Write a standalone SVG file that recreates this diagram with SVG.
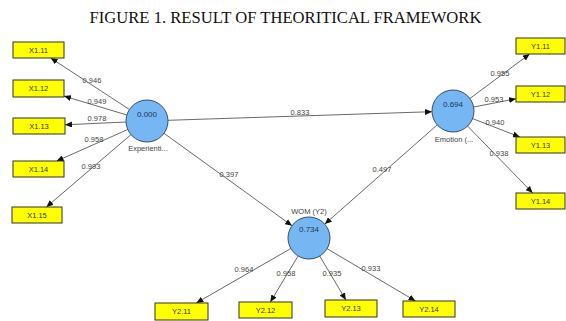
<svg xmlns="http://www.w3.org/2000/svg" width="566" height="321" viewBox="0 0 566 321">
<defs>
<marker id="ah" markerUnits="userSpaceOnUse" markerWidth="8" markerHeight="6" refX="7" refY="3" orient="auto">
<path d="M0,0 L7,3 L0,6 Z" fill="#111"/>
</marker>
<style>
.title{font-family:"Liberation Serif","Times New Roman",serif;font-size:16.6px;fill:#111;text-anchor:middle}
.box{fill:#ffff00;stroke:#333;stroke-width:1}
.bt{font-family:"Liberation Sans",Arial,sans-serif;font-size:7.5px;fill:#333;text-anchor:middle}
.lv{fill:#76b7f3;stroke:#34506c;stroke-width:1}
.val{font-family:"Liberation Sans",Arial,sans-serif;font-size:8px;fill:#1e3558;text-anchor:middle}
.nm{font-family:"Liberation Sans",Arial,sans-serif;font-size:7.5px;fill:#444;text-anchor:middle}
.ln{stroke:#444;stroke-width:0.8;fill:none;marker-end:url(#ah)}
.pl{font-family:"Liberation Sans",Arial,sans-serif;font-size:7.5px;fill:#444;text-anchor:middle}
</style>
</defs>
<rect width="566" height="321" fill="#fff"/>
<text class="title" x="285.5" y="23">FIGURE 1. RESULT OF THEORITICAL FRAMEWORK</text>

<g id="connectors">
<line class="ln" x1="129.4" y1="109.5" x2="50.7" y2="58"/>
<line class="ln" x1="126.9" y1="115" x2="64" y2="96.1"/>
<line class="ln" x1="126" y1="122" x2="65" y2="124.8"/>
<line class="ln" x1="127.8" y1="129.5" x2="56.6" y2="161"/>
<line class="ln" x1="131" y1="134.6" x2="46.4" y2="207"/>
<line class="ln" x1="469.9" y1="98.5" x2="529.7" y2="54"/>
<line class="ln" x1="473.6" y1="107" x2="516" y2="98.8"/>
<line class="ln" x1="472.6" y1="118.6" x2="519.9" y2="137"/>
<line class="ln" x1="467.6" y1="126.1" x2="532.7" y2="193"/>
<line class="ln" x1="290.8" y1="248.5" x2="196.3" y2="303"/>
<line class="ln" x1="298.1" y1="256" x2="270.3" y2="302"/>
<line class="ln" x1="319.7" y1="256" x2="345.9" y2="300"/>
<line class="ln" x1="327.1" y1="248.7" x2="415.5" y2="301"/>
<line class="ln" x1="168" y1="120.3" x2="432" y2="111.7"/>
<line class="ln" x1="164" y1="133.3" x2="292" y2="225.7"/>
<line class="ln" x1="437.2" y1="124.9" x2="324.8" y2="224.1"/>
<text class="pl" x="92" y="82.7">0.946</text>
<text class="pl" x="97" y="103.7">0.949</text>
<text class="pl" x="97" y="120.7">0.978</text>
<text class="pl" x="94" y="141.7">0.958</text>
<text class="pl" x="91" y="168.7">0.993</text>
<text class="pl" x="500" y="75.7">0.955</text>
<text class="pl" x="494" y="101.7">0.953</text>
<text class="pl" x="495" y="124.7">0.940</text>
<text class="pl" x="499" y="155.7">0.938</text>
<text class="pl" x="244" y="271.7">0.964</text>
<text class="pl" x="286" y="275.7">0.958</text>
<text class="pl" x="332" y="275.7">0.935</text>
<text class="pl" x="371" y="270.7">0.933</text>
<text class="pl" x="300" y="114.7">0.833</text>
<text class="pl" x="229" y="176.7">0.397</text>
<text class="pl" x="382" y="171.7">0.497</text>
</g>

<g id="experiential"><circle class="lv" cx="147" cy="121" r="21"/><text class="val" x="147" y="117">0.000</text><text class="nm" x="148" y="150.5">Experienti...</text></g>
<g id="emotion"><circle class="lv" cx="453" cy="111" r="21"/><text class="val" x="453" y="107">0.694</text><text class="nm" x="454" y="141.5">Emotion (...</text></g>
<g id="wom"><circle class="lv" cx="309" cy="238" r="21"/><text class="val" x="309" y="232">0.734</text><text class="nm" x="309" y="213.5">WOM (Y2)</text></g>

<g id="x111"><rect class="box" x="13" y="42" width="51" height="16"/><text class="bt" x="38.5" y="52.7">X1.11</text></g>
<g id="x112"><rect class="box" x="13" y="80" width="51" height="17"/><text class="bt" x="38.5" y="91.2">X1.12</text></g>
<g id="x113"><rect class="box" x="13" y="118" width="52" height="16"/><text class="bt" x="39" y="128.7">X1.13</text></g>
<g id="x114"><rect class="box" x="13" y="161" width="51" height="16"/><text class="bt" x="38.5" y="171.7">X1.14</text></g>
<g id="x115"><rect class="box" x="12" y="207" width="50" height="16"/><text class="bt" x="37" y="217.7">X1.15</text></g>
<g id="y111"><rect class="box" x="516" y="38" width="49" height="16"/><text class="bt" x="540.5" y="48.7">Y1.11</text></g>
<g id="y112"><rect class="box" x="516" y="86" width="49" height="16"/><text class="bt" x="540.5" y="96.7">Y1.12</text></g>
<g id="y113"><rect class="box" x="516" y="137" width="49" height="16"/><text class="bt" x="540.5" y="147.7">Y1.13</text></g>
<g id="y114"><rect class="box" x="516" y="193" width="49" height="16"/><text class="bt" x="540.5" y="203.7">Y1.14</text></g>
<g id="y211"><rect class="box" x="155" y="303" width="53" height="17"/><text class="bt" x="181.5" y="314.2">Y2.11</text></g>
<g id="y212"><rect class="box" x="239" y="302" width="53" height="16"/><text class="bt" x="265.5" y="312.7">Y2.12</text></g>
<g id="y213"><rect class="box" x="325" y="300" width="52" height="17"/><text class="bt" x="351" y="311.2">Y2.13</text></g>
<g id="y214"><rect class="box" x="403" y="301" width="52" height="16"/><text class="bt" x="429" y="311.7">Y2.14</text></g>
</svg>
